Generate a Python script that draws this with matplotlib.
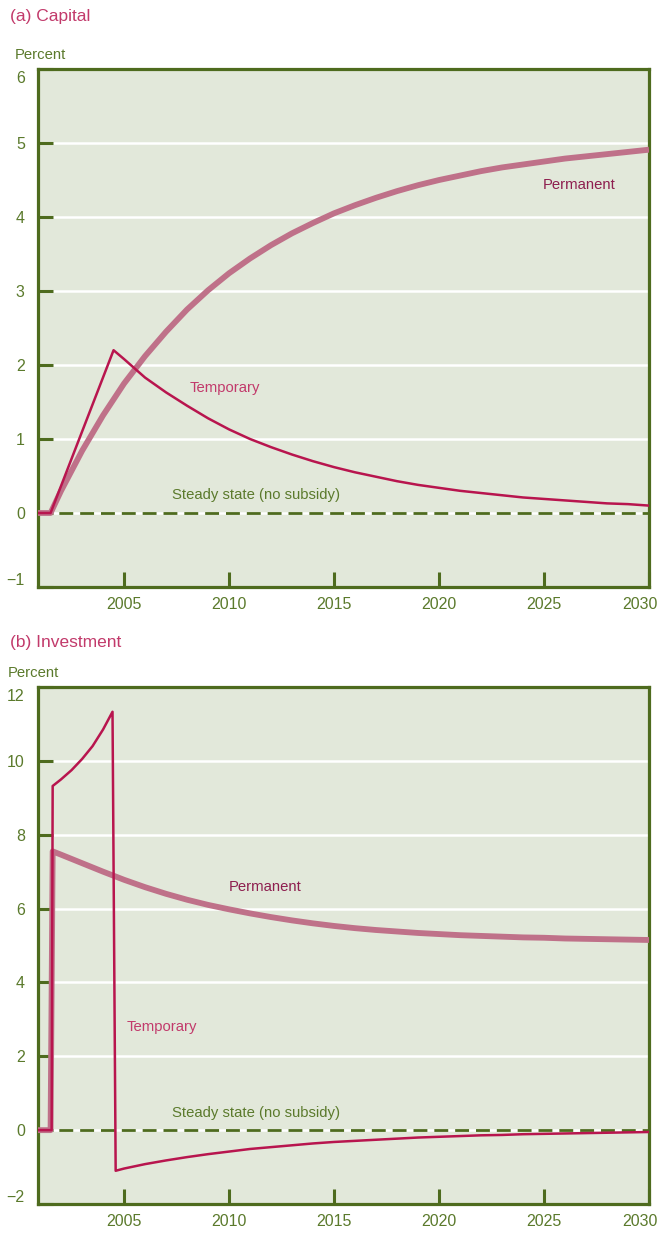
import matplotlib
matplotlib.use("Agg")
import matplotlib.pyplot as plt
import matplotlib.transforms as mtransforms
from matplotlib import font_manager as fm

# ---- data ----
years_a = [2000.9, 2001.5, 2002, 2003, 2004, 2005, 2006, 2007, 2008, 2009, 2010,
           2011, 2012, 2013, 2014, 2015, 2016, 2017, 2018, 2019, 2020,
           2021, 2022, 2023, 2024, 2025, 2026, 2027, 2028, 2029, 2030]
capital_perm = [0, 0, 0.30, 0.84, 1.32, 1.75, 2.12, 2.45, 2.75, 3.01, 3.24,
                3.44, 3.62, 3.78, 3.92, 4.05, 4.16, 4.26, 4.35, 4.43, 4.50,
                4.56, 4.62, 4.67, 4.71, 4.75, 4.79, 4.82, 4.85, 4.88, 4.91]

years_a_temp = [2000.9, 2001.5, 2004.5, 2005, 2006, 2007, 2008, 2009, 2010,
                2011, 2012, 2013, 2014, 2015, 2016, 2017, 2018, 2019, 2020,
                2021, 2022, 2023, 2024, 2025, 2026, 2027, 2028, 2029, 2030]
capital_temp = [0, 0, 2.20, 2.08, 1.83, 1.63, 1.45, 1.28, 1.13,
                1.00, 0.89, 0.79, 0.70, 0.62, 0.55, 0.49, 0.43, 0.38, 0.34,
                0.30, 0.27, 0.24, 0.21, 0.19, 0.17, 0.15, 0.13, 0.12, 0.10]

years_b = [2000.9, 2001.5, 2001.6, 2002, 2003, 2004, 2005, 2006, 2007, 2008, 2009, 2010,
           2011, 2012, 2013, 2014, 2015, 2016, 2017, 2018, 2019, 2020,
           2021, 2022, 2023, 2024, 2025, 2026, 2027, 2028, 2029, 2030]
invest_perm = [0, 0, 7.55, 7.46, 7.23, 7.00, 6.78, 6.58, 6.40, 6.24, 6.10, 5.98,
               5.87, 5.77, 5.68, 5.60, 5.53, 5.47, 5.42, 5.38, 5.34, 5.31,
               5.28, 5.26, 5.24, 5.22, 5.21, 5.19, 5.18, 5.17, 5.16, 5.15]

years_b_temp = [2000.9, 2001.55, 2001.6, 2002, 2002.5, 2003, 2003.5, 2004, 2004.45,
                2004.6, 2005, 2006, 2007, 2008, 2009, 2010,
                2011, 2012, 2013, 2014, 2015, 2016, 2017, 2018, 2019, 2020,
                2021, 2022, 2023, 2024, 2025, 2026, 2027, 2028, 2029, 2030]
invest_temp = [0, 0, 9.32, 9.50, 9.75, 10.05, 10.40, 10.85, 11.33,
               -1.10, -1.04, -0.92, -0.82, -0.73, -0.65, -0.58,
               -0.51, -0.46, -0.41, -0.36, -0.32, -0.29, -0.26, -0.23, -0.20, -0.18,
               -0.16, -0.14, -0.13, -0.11, -0.10, -0.09, -0.08, -0.07, -0.06, -0.05]

x_ticks = [2005, 2010, 2015, 2020, 2025, 2030]
yticks_a = [-1, 0, 1, 2, 3, 4, 5, 6]
ylabels_a = ["\u22121", "0", "1", "2", "3", "4", "5", "6"]
yticks_b = [-2, 0, 2, 4, 6, 8, 10, 12]
ylabels_b = ["\u22122", "0", "2", "4", "6", "8", "10", "12"]

# ---- style ----
BG = "#e2e8da"
GREEN = "#4e6b1e"
GREEN_TXT = "#5b7a2c"
PERM = "#bf7189"
TEMP = "#b8154e"
TITLE = "#c23a6b"
PERM_TXT = "#8e1f4f"

# the original uses a narrow sans; fall back to Liberation Sans, a bit smaller
names = {f.name for f in fm.fontManager.ttflist}
if "Liberation Sans Narrow" in names:
    NARROW = ["Liberation Sans Narrow", "DejaVu Sans"]
    k = 1.0
else:
    NARROW = ["Liberation Sans", "DejaVu Sans"]
    k = 0.86
TICK_FS = 13.4 * k
LABEL_FS = 12.5 * k
REGULAR = ["Liberation Sans", "DejaVu Sans"]


def setup(ax, ylim, yticks, ylabels):
    ax.set_facecolor(BG)
    ax.set_xlim(2000.9, 2030)
    ax.set_ylim(*ylim)
    for s in ax.spines.values():
        s.set_color(GREEN)
        s.set_linewidth(2.3)
    for y in yticks[1:-1]:
        ax.axhline(y, color="white", lw=1.8, zorder=1)
    ax.set_yticks(yticks)
    ax.set_yticklabels(ylabels, family=NARROW, fontsize=TICK_FS, color=GREEN_TXT)
    ax.set_xticks(x_ticks)
    ax.set_xticklabels([str(x) for x in x_ticks], family=NARROW,
                       fontsize=TICK_FS, color=GREEN_TXT)
    ax.tick_params(axis="both", direction="in", length=11, width=2.2,
                   color=GREEN, pad=7)
    ax.tick_params(axis="y", pad=9.5)
    # end labels sit a little inside the frame
    ylab = ax.get_yticklabels()
    ylab[0].set_transform(ylab[0].get_transform() +
                          mtransforms.ScaledTranslation(0, 6 / 72, fig.dpi_scale_trans))
    ylab[-1].set_transform(ylab[-1].get_transform() +
                           mtransforms.ScaledTranslation(0, -6 / 72, fig.dpi_scale_trans))
    xlab = ax.get_xticklabels()
    xlab[-1].set_horizontalalignment("right")
    xlab[-1].set_transform(xlab[-1].get_transform() +
                           mtransforms.ScaledTranslation(6 / 72, 0, fig.dpi_scale_trans))
    ax.axhline(0, color=GREEN, lw=2.0, ls=(0, (5, 2.5)), zorder=3)


fig = plt.figure(figsize=(6.57, 12.35), dpi=100)
ax1 = fig.add_axes([0.0578, 0.5247, 0.930, 0.4194])
ax2 = fig.add_axes([0.0578, 0.0251, 0.930, 0.4186])

# (a) Capital
setup(ax1, (-1, 6), yticks_a, ylabels_a)
ax1.plot(years_a, capital_perm, color=PERM, lw=4.2, zorder=4,
         solid_capstyle="butt")
ax1.plot(years_a_temp, capital_temp, color=TEMP, lw=1.8, zorder=5)
ax1.text(2024.95, 4.43, "Permanent", family=NARROW, fontsize=LABEL_FS,
         color=PERM_TXT, va="center")
ax1.text(2008.1, 1.69, "Temporary", family=NARROW, fontsize=LABEL_FS,
         color=TITLE, va="center")
ax1.text(2007.3, 0.25, "Steady state (no subsidy)", family=NARROW,
         fontsize=LABEL_FS, color=GREEN_TXT, va="center")

# (b) Investment
setup(ax2, (-2, 12), yticks_b, ylabels_b)
ax2.plot(years_b, invest_perm, color=PERM, lw=4.2, zorder=4,
         solid_capstyle="butt")
ax2.plot(years_b_temp, invest_temp, color=TEMP, lw=1.8, zorder=5)
ax2.text(2010.0, 6.59, "Permanent", family=NARROW, fontsize=LABEL_FS,
         color=PERM_TXT, va="center")
ax2.text(2005.1, 2.79, "Temporary", family=NARROW, fontsize=LABEL_FS,
         color=TITLE, va="center")
ax2.text(2007.3, 0.46, "Steady state (no subsidy)", family=NARROW,
         fontsize=LABEL_FS, color=GREEN_TXT, va="center")

# panel titles and unit labels
fig.text(10 / 657, 1 - 17 / 1235, "(a) Capital", family=REGULAR,
         fontsize=12.5, color=TITLE, va="center")
fig.text(15 / 657, 1 - 55 / 1235, "Percent", family=NARROW, fontsize=LABEL_FS,
         color=GREEN_TXT, va="center")
fig.text(10 / 657, 1 - 643 / 1235, "(b) Investment", family=REGULAR,
         fontsize=12.5, color=TITLE, va="center")
fig.text(8 / 657, 1 - 673 / 1235, "Percent", family=NARROW, fontsize=LABEL_FS,
         color=GREEN_TXT, va="center")

fig.savefig("out.png", dpi=100, facecolor="white")
